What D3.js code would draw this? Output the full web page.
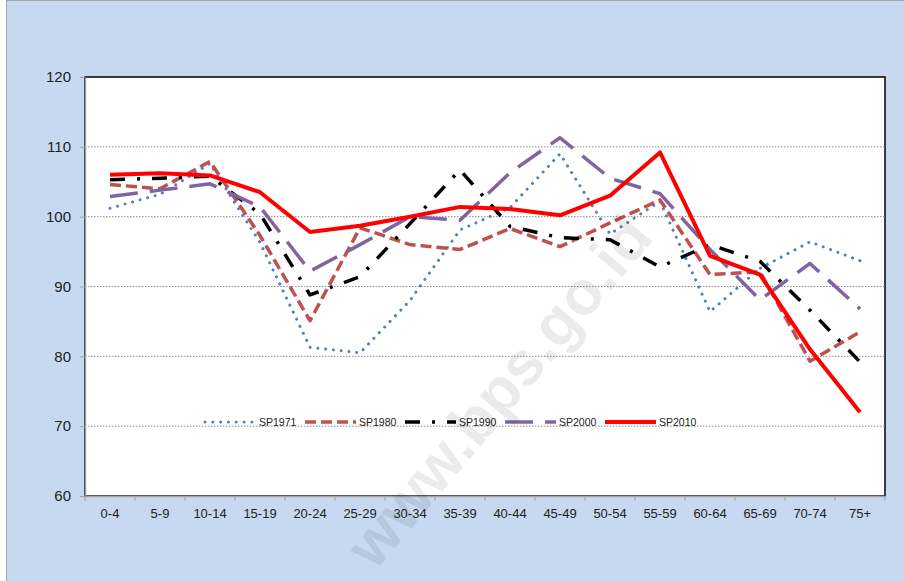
<!DOCTYPE html>
<html><head><meta charset="utf-8">
<script src="https://cdn.jsdelivr.net/npm/d3@7"></script>
<style>body{margin:0;padding:0;background:#fff}svg{display:block}</style>
</head><body>
<svg id="chart" width="904" height="581"></svg>
<script>
const categories = ["0-4","5-9","10-14","15-19","20-24","25-29","30-34","35-39","40-44","45-49","50-54","55-59","60-64","65-69","70-74","75+"];
const SP1971 = [101.2,103.2,107.6,96.3,81.3,80.5,88.0,98.1,101.3,109.0,97.5,102.2,86.4,92.6,96.4,93.7];
const SP1980 = [104.6,104.0,107.9,97.3,85.1,98.4,96.0,95.3,98.3,95.7,99.1,102.4,91.7,92.1,79.3,83.5];
const SP1990 = [105.3,105.5,105.8,100.4,88.8,91.4,99.0,106.7,98.6,97.0,96.7,92.8,96.0,93.6,86.6,79.2];
const SP2000 = [102.9,103.8,104.7,101.4,92.2,96.0,100.0,99.5,106.3,111.3,105.5,103.3,95.3,88.1,93.3,86.8];
const SP2010 = [106.0,106.2,105.9,103.5,97.8,98.7,100.0,101.4,101.1,100.2,103.0,109.2,94.4,91.7,81.0,72.0];
const seriesNames = ["SP1971","SP1980","SP1990","SP2000","SP2010"];
const yTicks = [60,70,80,90,100,110,120];
const watermark = "www.bps.go.id";

const seriesData = [SP1971,SP1980,SP1990,SP2000,SP2010];
const styles = [
  {color:"#4f81bd", width:3, dash:"0.01 7.8", cap:"round"},
  {color:"#c0504d", width:3.5, dash:"11 5", cap:"butt"},
  {color:"#000000", width:3.5, dash:"15 12 3 12", cap:"butt"},
  {color:"#8064a2", width:3.5, dash:"28 12", cap:"butt"},
  {color:"#ff0000", width:4, dash:null, cap:"butt"}
];

const svg = d3.select("#chart");
const L = 85, R = 885, T = 77, B = 496;

svg.append("rect").attr("x",6.5).attr("y",0.5).attr("width",1000).attr("height",1000)
  .attr("fill","#c6d9f1").attr("stroke","#a6a6a6").attr("stroke-width",1);

const x = d3.scaleBand().domain(categories).range([L,R]).padding(0);
const y = d3.scaleLinear().domain([60,120]).range([B,T]);

svg.append("rect").attr("x",L).attr("y",T).attr("width",R-L).attr("height",B-T)
  .attr("fill","#fff").attr("stroke","#000").attr("stroke-width",1.5);

// gridlines
svg.append("g").selectAll("line").data(yTicks.filter(v=>v>60 && v<120)).join("line")
  .attr("x1",L).attr("x2",R).attr("y1",d=>y(d)).attr("y2",d=>y(d))
  .attr("stroke","#8c8c8c").attr("stroke-width",1).attr("stroke-dasharray","1.5 1.5");

// lines
const line = d3.line().x((d,i)=>x(categories[i])+x.bandwidth()/2).y(d=>y(d));
seriesData.forEach((s,k)=>{
  const st = styles[k];
  svg.append("path").datum(s).attr("d",line).attr("fill","none")
    .attr("stroke",st.color).attr("stroke-width",st.width)
    .attr("stroke-dasharray",st.dash).attr("stroke-linecap",st.cap)
    .attr("stroke-linejoin","round");
});

// legend
const lg = svg.append("g");
seriesNames.forEach((n,k)=>{
  const st = styles[k];
  const x0 = 205 + k*100;
  lg.append("line").attr("x1",x0).attr("x2",x0+51).attr("y1",422).attr("y2",422)
    .attr("stroke",st.color).attr("stroke-width",st.width)
    .attr("stroke-dasharray",st.dash).attr("stroke-linecap",st.cap);
  lg.append("text").attr("x",x0+54).attr("y",426).text(n)
    .attr("font-family","Liberation Sans, Arial, sans-serif").attr("font-size",10.5).attr("fill","#222");
});

// axes
const yAxis = svg.append("g").attr("transform",`translate(${L},0)`)
  .call(d3.axisLeft(y).tickValues(yTicks).tickSize(5).tickSizeOuter(0).tickPadding(9));
yAxis.selectAll("text").attr("font-family","Liberation Sans, Arial, sans-serif").attr("font-size",15).attr("fill","#222");
yAxis.selectAll("line").attr("stroke","#a0a0a0");
yAxis.select(".domain").attr("stroke","#a0a0a0").attr("stroke-width",1.5);

const xAxis = svg.append("g").attr("transform",`translate(0,${B})`)
  .call(d3.axisBottom(x).tickSize(0).tickSizeOuter(0).tickPadding(13));
xAxis.selectAll("text").attr("font-family","Liberation Sans, Arial, sans-serif").attr("font-size",13).attr("fill","#222");
xAxis.select(".domain").attr("stroke","#a0a0a0").attr("stroke-width",1.5);
xAxis.append("g").selectAll("line").data(categories.map(c=>x(c)).concat([x.range()[1]])).join("line")
  .attr("x1",d=>d).attr("x2",d=>d).attr("y1",0).attr("y2",5).attr("stroke","#a0a0a0");

// watermark
svg.append("text").attr("transform","translate(515,405) rotate(-50)")
  .attr("text-anchor","middle").attr("font-family","Liberation Sans, Arial, sans-serif")
  .attr("font-weight","bold").attr("font-size",62).attr("fill","#000").attr("fill-opacity",0.08)
  .text(watermark);
</script>
</body></html>
